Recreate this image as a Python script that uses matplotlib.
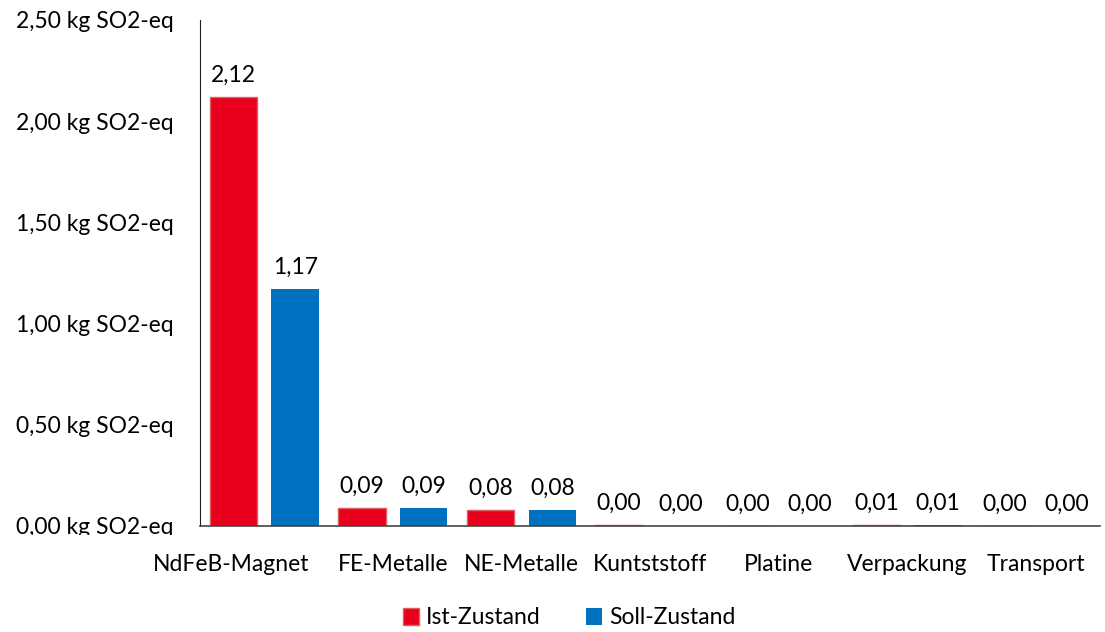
import matplotlib.pyplot as plt
import numpy as np
from matplotlib.transforms import Bbox, ScaledTranslation

# Versauerungspotenzial je Baugruppe
categories = ['NdFeB-Magnet', 'FE-Metalle', 'NE-Metalle', 'Kuntststoff',
              'Platine', 'Verpackung', 'Transport']
ist_values = [2.12, 0.09, 0.08, 0.003, 0.002, 0.007, 0.002]
soll_values = [1.17, 0.088, 0.08, 0.001, 0.0, 0.006, 0.0]
yticks = [0.0, 0.5, 1.0, 1.5, 2.0, 2.5]

plt.rcParams['font.family'] = ['Lato', 'DejaVu Sans']
FS = 16.5

fig = plt.figure(figsize=(11.05, 6.32), dpi=100)
ax = fig.add_axes([200 / 1105, 1 - 526 / 632, 900 / 1105, 506 / 632])

x = np.arange(len(categories))
w = 0.37
off = 0.24
red_bars = ax.bar(x - off, ist_values, w, color='#E8001C', edgecolor='#D96060',
                  linewidth=1.0, label='Ist-Zustand')
blue_bars = ax.bar(x + off, soll_values, w, color='#0070C0', linewidth=0,
                   label='Soll-Zustand')

# Werte über den Balken
for bars, vals in [(red_bars, ist_values), (blue_bars, soll_values)]:
    for b, v in zip(bars, vals):
        ax.annotate(f'{v:.2f}'.replace('.', ','),
                    (b.get_x() + b.get_width() / 2, b.get_height()),
                    xytext=(0, 8), textcoords='offset points',
                    ha='center', va='bottom', fontsize=FS)

ax.set_xlim(-0.5, len(categories) - 0.5)
ax.set_ylim(0, 2.5)
ax.set_yticks(yticks)
ax.set_yticklabels([f'{t:.2f} kg SO2-eq'.replace('.', ',') for t in yticks],
                   fontsize=FS)
ax.set_xticks(x)
ax.set_xticklabels(categories, fontsize=FS)
ax.tick_params(axis='both', length=0)
ax.tick_params(axis='y', pad=19)
ax.tick_params(axis='x', pad=20)

# erstes Kategorie-Label etwas nach links, damit es nicht überlappt
first = ax.get_xticklabels()[0]
first.set_transform(first.get_transform()
                    + ScaledTranslation(-0.33, 0, fig.dpi_scale_trans))

for s in ['top', 'right']:
    ax.spines[s].set_visible(False)
ax.spines['left'].set_color('#222222')
ax.spines['bottom'].set_color('#444444')
ax.spines['bottom'].set_linewidth(1.2)

# unterstes Label wird an der Achse abgeschnitten
lab0 = ax.get_yticklabels()[0]
lab0.set_clip_on(True)
lab0.set_clip_box(Bbox.from_extents(0, 632 - 535, 1105, 632))

fig.legend(handles=[red_bars, blue_bars], loc='center',
           bbox_to_anchor=(569 / 1105, 1 - 618 / 632), ncol=2,
           frameon=False, fontsize=FS, handlelength=0.7, handleheight=0.7,
           handletextpad=0.3, columnspacing=2.0)

fig.savefig('out.png', dpi=100)
